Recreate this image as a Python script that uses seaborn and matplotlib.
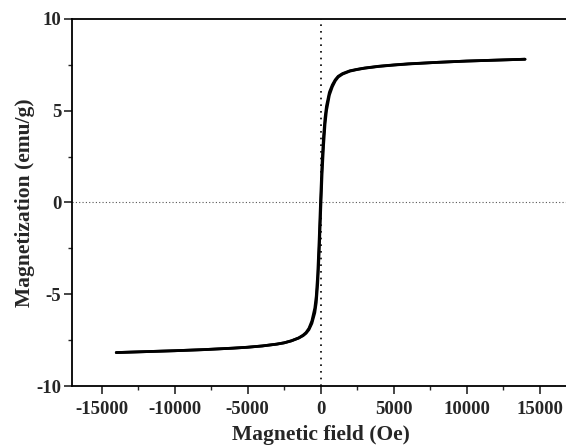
import matplotlib
matplotlib.use("Agg")
import matplotlib.pyplot as plt
from matplotlib.ticker import MultipleLocator, AutoMinorLocator
import seaborn as sns
import pandas as pd

# Magnetic field (Oe)
field = [-14000, -12000, -10000, -8000, -6000, -5000, -4000, -3000, -2500, -2000,
         -1500, -1200, -1000, -800, -600, -400, -300, -200, -100, 0,
         100, 200, 300, 400, 600, 800, 1000, 1200, 1500, 2000,
         2500, 3000, 4000, 5000, 6000, 8000, 10000, 12000, 14000]
# ascending branch magnetization (emu/g)
m_up = [-8.17, -8.12, -8.07, -8.01, -7.93, -7.88, -7.81, -7.71, -7.64, -7.53,
        -7.38, -7.25, -7.12, -6.92, -6.58, -6.0, -5.45, -4.4, -2.7, -0.5,
        1.6, 3.1, 4.25, 5.0, 5.85, 6.3, 6.62, 6.83, 6.99, 7.15,
        7.24, 7.31, 7.41, 7.48, 7.54, 7.63, 7.70, 7.75, 7.80]
# descending branch magnetization (emu/g)
m_down = [-8.17, -8.12, -8.07, -8.01, -7.93, -7.88, -7.81, -7.71, -7.64, -7.53,
          -7.37, -7.22, -7.08, -6.85, -6.45, -5.75, -5.1, -3.9, -2.0, 0.2,
          2.2, 3.6, 4.6, 5.25, 6.0, 6.4, 6.68, 6.87, 7.02, 7.17,
          7.25, 7.32, 7.42, 7.49, 7.55, 7.63, 7.70, 7.75, 7.80]

df = pd.concat([
    pd.DataFrame({"H": field, "M": m_up, "branch": "up"}),
    pd.DataFrame({"H": field[::-1], "M": m_down[::-1], "branch": "down"}),
], ignore_index=True)

sns.set_style("ticks")
plt.rcParams["font.family"] = ["Liberation Serif", "DejaVu Serif"]
plt.rcParams["font.weight"] = "bold"
plt.rcParams["axes.unicode_minus"] = False

fig = plt.figure(figsize=(5.66, 4.48), dpi=100)
ax = fig.add_axes([0.128, 0.138, 0.877, 0.82])

ax.axhline(0, color="#555555", linestyle=(0, (1, 2)), linewidth=0.8, zorder=1)
ax.axvline(0, color="black", linestyle=(0, (1, 3)), linewidth=1.2, zorder=1)

sns.lineplot(data=df, x="H", y="M", units="branch", estimator=None, sort=False,
             color="black", linewidth=2.0, ax=ax, zorder=3)

ax.set_xlim(-17000, 17000)
ax.set_ylim(-10, 10)
ax.xaxis.set_major_locator(MultipleLocator(5000))
ax.xaxis.set_minor_locator(AutoMinorLocator(2))
ax.yaxis.set_major_locator(MultipleLocator(5))
ax.yaxis.set_minor_locator(AutoMinorLocator(2))

ax.tick_params(which="major", direction="out", length=6, width=1.2, labelsize=13.5)
ax.tick_params(axis="x", which="major", pad=5)
ax.tick_params(axis="y", which="major", pad=2)
ax.tick_params(which="minor", direction="out", length=3, width=1.0)
for lbl in ax.get_xticklabels() + ax.get_yticklabels():
    lbl.set_fontweight("bold")

for s in ax.spines.values():
    s.set_visible(True)
    s.set_linewidth(1.3)
    s.set_color("black")

ax.set_xlabel("Magnetic field (Oe)", fontsize=15.5, fontweight="bold", labelpad=4.5)
ax.set_ylabel("Magnetization (emu/g)", fontsize=15.5, fontweight="bold", labelpad=1)

fig.savefig("out.png", dpi=100)
